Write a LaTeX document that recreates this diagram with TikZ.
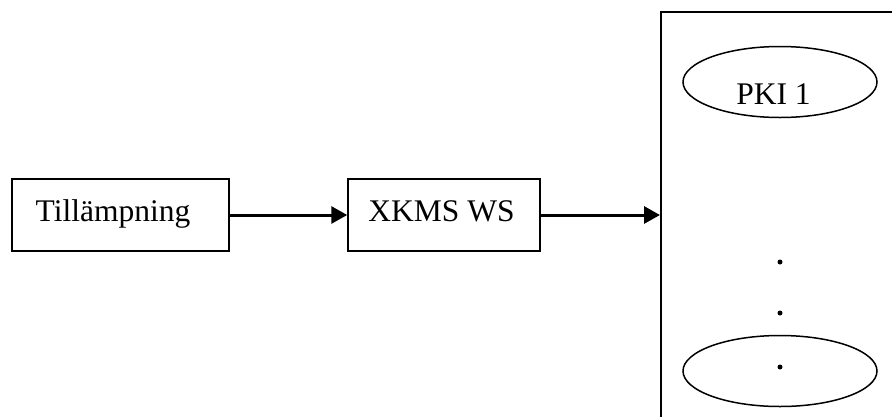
\documentclass[tikz,border=0pt]{standalone}
\usepackage{fontspec}
\setmainfont{Liberation Serif}
\usetikzlibrary{arrows.meta,shapes.geometric}
\begin{document}
\begin{tikzpicture}[x=1pt,y=-1pt,
  box/.style={draw,line width=1.5pt,rectangle,inner sep=0pt},
  oval/.style={draw,line width=1.5pt,ellipse,inner sep=0pt,minimum width=194pt,minimum height=71pt},
  lbl/.style={font=\fontsize{31.5}{36}\selectfont,anchor=base,inner sep=0pt},
  flow/.style={line width=3pt,-{Triangle[length=16pt,width=17pt]}},
  dotmark/.style={circle,fill,inner sep=0pt,minimum size=5pt}]
\useasboundingbox (0,0) rectangle (892,416);
\clip (0,0) rectangle (892,416);
\fill[white] (0,0) rectangle (892,416);

% left-hand boxes
\node[box,minimum width=217pt,minimum height=72pt] (app) at (120.5,215) {};
\node[lbl] (applbl) at (113,221) {Tillämpning};
\node[box,minimum width=192pt,minimum height=72pt] (xkms) at (444,215) {};
\node[lbl] (xkmslbl) at (441.5,221) {XKMS WS};

% container for the PKIs, running off the right and bottom edges
\node[box,minimum width=260pt,minimum height=430pt,anchor=north west] (pkis) at (660,11) {};

% PKIs
\node[oval] (pki1) at (780,82) {};
\node[lbl] (pki1lbl) at (773.5,104) {PKI 1};
\node[oval] (pkin) at (780,371) {};
\node[dotmark] (d1) at (780,262) {};
\node[dotmark] (d2) at (780,313) {};
\node[dotmark] (d3) at (780,367) {};

% connectors
\draw[flow] (app.east) -- (xkms.west);
\draw[flow] (xkms.east) -- (xkms.east -| pkis.west);
\end{tikzpicture}
\end{document}
